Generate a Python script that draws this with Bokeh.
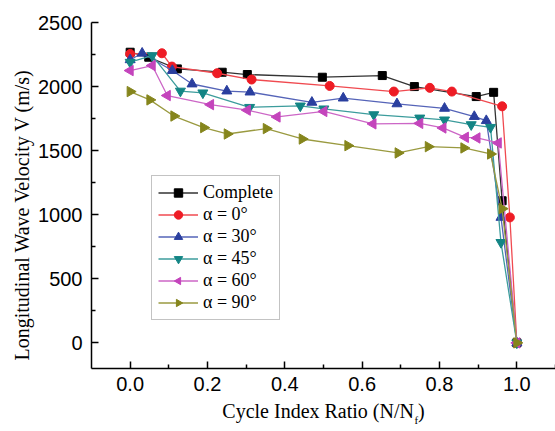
import math
from bokeh.plotting import figure
from bokeh.models import (Range1d, FixedTicker, NumeralTickFormatter, Legend,
                          LegendItem, Title)
from bokeh.embed import file_html
from bokeh.resources import INLINE

# ---- data ----
x_complete = [0.0, 0.048, 0.122, 0.238, 0.303, 0.497, 0.652, 0.735, 0.895, 0.940, 0.962, 1.0]
v_complete = [2268, 2229, 2138, 2112, 2094, 2073, 2086, 2000, 1922, 1955, 1109, 0]

x_a0 = [0.0, 0.082, 0.108, 0.225, 0.314, 0.516, 0.682, 0.775, 0.832, 0.962, 0.982, 1.0]
v_a0 = [2255, 2260, 2156, 2104, 2055, 2005, 1961, 1990, 1961, 1846, 979, 0]

x_a30 = [0.0, 0.031, 0.109, 0.160, 0.250, 0.310, 0.470, 0.551, 0.690, 0.813, 0.890, 0.921, 0.959, 1.0]
v_a30 = [2209, 2260, 2125, 2020, 1965, 1957, 1877, 1910, 1865, 1830, 1766, 1734, 979, 0]

x_a45 = [0.0, 0.057, 0.130, 0.188, 0.309, 0.440, 0.501, 0.630, 0.749, 0.813, 0.882, 0.932, 0.959, 1.0]
v_a45 = [2190, 2242, 1965, 1951, 1838, 1849, 1826, 1781, 1755, 1740, 1703, 1682, 784, 0]

x_a60 = [0.0, 0.057, 0.096, 0.208, 0.303, 0.380, 0.501, 0.628, 0.749, 0.809, 0.867, 0.897, 0.952, 1.0]
v_a60 = [2125, 2164, 1930, 1859, 1816, 1763, 1806, 1709, 1713, 1677, 1604, 1599, 1560, 0]

x_a90 = [0.0, 0.051, 0.113, 0.190, 0.251, 0.352, 0.445, 0.563, 0.693, 0.771, 0.863, 0.932, 0.962, 1.0]
v_a90 = [1961, 1896, 1770, 1680, 1630, 1672, 1591, 1539, 1482, 1531, 1521, 1474, 1047, 0]

series_names = ["Complete", "α = 0°", "α = 30°", "α = 45°", "α = 60°", "α = 90°"]

x_ticks = [0.0, 0.2, 0.4, 0.6, 0.8, 1.0]
x_minor_ticks = [0.1, 0.3, 0.5, 0.7, 0.9, 1.1]
y_ticks = [0, 500, 1000, 1500, 2000, 2500]
y_minor_ticks = [250, 750, 1250, 1750, 2250]

x_title_main = "Cycle Index Ratio (N/N\u2009)"
x_title_sub = "f"
y_title = "Longitudinal Wave Velocity V (m/s)"

# ---- figure ----
p = figure(width=555, height=431, output_backend="svg", toolbar_location=None,
           x_range=Range1d(-0.1, 1.1), y_range=Range1d(-200, 2500),
           min_border_left=91, min_border_right=0, min_border_top=22,
           min_border_bottom=63)
p.outline_line_color = None
p.xgrid.visible = False
p.ygrid.visible = False
p.background_fill_color = "white"
p.border_fill_color = "white"

for ax in (p.xaxis[0], p.yaxis[0]):
    ax.axis_line_width = 1.5
    ax.axis_line_color = "black"
    ax.major_tick_in = 7
    ax.major_tick_out = 0
    ax.minor_tick_in = 4
    ax.minor_tick_out = 0
    ax.major_tick_line_width = 1.5
    ax.minor_tick_line_width = 1.5
    ax.major_label_text_font = "Liberation Sans"
    ax.major_label_text_font_size = "20px"
    ax.major_label_text_color = "black"
    ax.major_label_standoff = 8

p.xaxis.ticker = FixedTicker(ticks=x_ticks, minor_ticks=x_minor_ticks)
p.xaxis.formatter = NumeralTickFormatter(format="0.0")
p.yaxis.ticker = FixedTicker(ticks=y_ticks, minor_ticks=y_minor_ticks)
p.yaxis.major_label_standoff = 9

p.xaxis.axis_label = x_title_main
p.xaxis.axis_label_text_font = "Liberation Serif"
p.xaxis.axis_label_text_font_size = "20px"
p.xaxis.axis_label_text_font_style = "normal"
p.xaxis.axis_label_text_color = "black"
p.xaxis.axis_label_standoff = 6

# subscript of the x title and the y title as side-panel titles
p.add_layout(Title(text=x_title_sub, align="left", offset=323, vertical_align="top",
                   standoff=-22, text_font="Liberation Serif", text_font_size="11px",
                   text_font_style="normal", text_color="black"), "below")
p.add_layout(Title(text=y_title, align="left", offset=8, standoff=6,
                   text_font="Liberation Serif", text_font_size="20px",
                   text_font_style="normal", text_color="black"), "left")

styles = [
    dict(x=x_complete, y=v_complete, color="#000000", line="#333333", marker="square", size=8),
    dict(x=x_a0, y=v_a0, color="#ee1c25", line="#f04a50", marker="circle", size=9),
    dict(x=x_a30, y=v_a30, color="#2a3f9f", line="#5564b8", marker="triangle", size=10),
    dict(x=x_a45, y=v_a45, color="#138585", line="#3c9c9c", marker="inverted_triangle", size=10),
    dict(x=x_a60, y=v_a60, color="#c444bc", line="#cc66c6", marker="ngon_left", size=6),
    dict(x=x_a90, y=v_a90, color="#85851c", line="#9a9a40", marker="ngon_right", size=6),
]

items = []
for name, st in zip(series_names, styles):
    r_line = p.line(st["x"], st["y"], line_color=st["line"], line_width=1.3)
    if st["marker"].startswith("ngon"):
        ang = math.pi / 2 if st["marker"] == "ngon_left" else -math.pi / 2
        r_pts = p.ngon(st["x"], st["y"], radius=st["size"], radius_units="screen", n=3,
                       angle=ang, fill_color=st["color"], line_color=st["color"],
                       line_width=1)
    else:
        r_pts = p.scatter(st["x"], st["y"], marker=st["marker"], size=st["size"],
                          fill_color=st["color"], line_color=st["color"], line_width=1)
    items.append(LegendItem(label=name, renderers=[r_line, r_pts]))

legend = Legend(items=items, location=(60, 48))
legend.label_text_font = "Liberation Serif"
legend.label_text_font_size = "18px"
legend.label_text_color = "black"
legend.glyph_width = 40
legend.glyph_height = 21
legend.label_height = 21
legend.label_standoff = 5
legend.spacing = 1
legend.padding = 6
legend.margin = 0
legend.border_line_color = "#888888"
legend.border_line_width = 1
legend.background_fill_color = "white"
legend.background_fill_alpha = 1.0
p.add_layout(legend)

open("out.html", "w").write(file_html(p, INLINE))
